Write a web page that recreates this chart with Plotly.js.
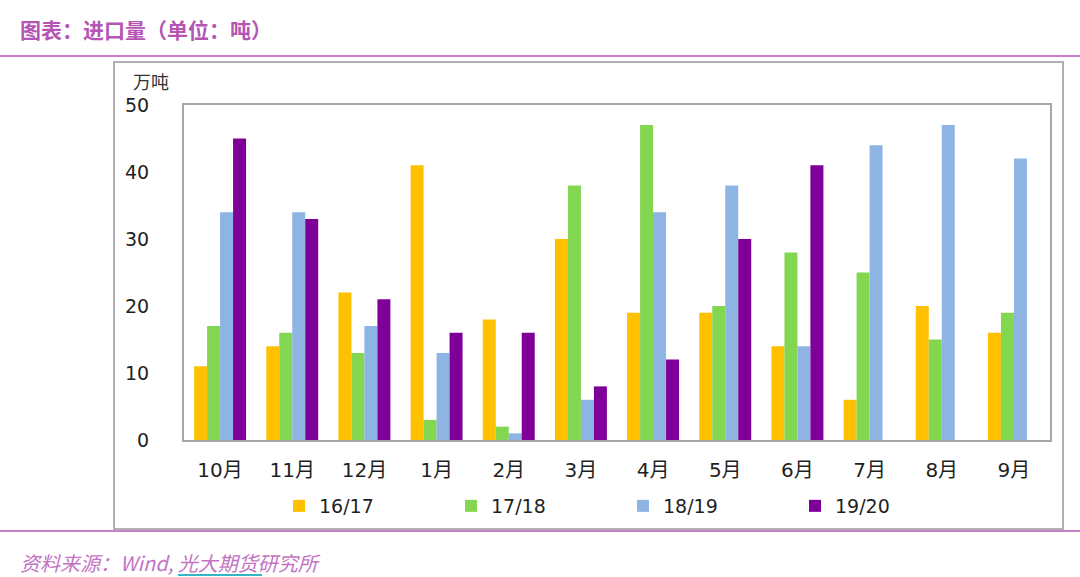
<!DOCTYPE html>
<html>
<head>
<meta charset="utf-8">
<script src="https://cdn.plot.ly/plotly-3.0.1.min.js"></script>
<style>
  html, body { margin: 0; padding: 0; background: #fff; }
  #chart { width: 1080px; height: 577px; }
</style>
</head>
<body>
<div id="chart"></div>
<script>
// months of the marketing year
var months = ['10月', '11月', '12月', '1月', '2月', '3月', '4月', '5月', '6月', '7月', '8月', '9月'];
var seasons = ['16/17', '17/18', '18/19', '19/20'];
// imports, 万吨
var y1617 = [11, 14, 22, 41, 18, 30, 19, 19, 14, 6, 20, 16];
var y1718 = [17, 16, 13, 3, 2, 38, 47, 20, 28, 25, 15, 19];
var y1819 = [34, 34, 17, 13, 1, 6, 34, 38, 14, 44, 47, 42];
var y1920 = [45, 33, 21, 16, 16, 8, 12, 30, 41, null, null, null];
var colors = ['#FFC000', '#82D650', '#8DB4E2', '#7E0099'];

var cjk = 'Noto Sans CJK SC, Noto Sans, sans-serif';
var num = 'DejaVu Sans, Noto Sans CJK SC, sans-serif';
var series = [y1617, y1718, y1819, y1920];
var data = series.map(function (vals, i) {
  return {
    type: 'bar',
    name: seasons[i],
    x: months,
    y: vals,
    marker: { color: colors[i], line: { width: 0 } },
    hoverinfo: 'x+y+name'
  };
});

// pixel helpers for the frame around the chart
var L = 184, R = 1050, T = 105, B = 440;
function px(x) { return (x - L) / (R - L); }
function py(y) { return (B - y) / (B - T); }

var layout = {
  width: 1080,
  height: 577,
  margin: { l: L, r: 1080 - R, t: T, b: 577 - B },
  paper_bgcolor: '#fff',
  plot_bgcolor: '#fff',
  barmode: 'group',
  bargap: 0.28,
  bargroupgap: 0,
  showlegend: true,
  font: { family: cjk, color: '#333' },
  legend: {
    orientation: 'h',
    x: px(279), y: py(487),
    xanchor: 'left', yanchor: 'top',
    font: { size: 19, color: '#1f1f1f', family: num },
    entrywidth: 127,
    traceorder: 'normal'
  },
  xaxis: {
    type: 'category',
    showline: true, mirror: true, linecolor: '#a6a6a6', linewidth: 2,
    ticks: '', showgrid: false,
    tickfont: { size: 20, color: '#1f1f1f', family: num },
    ticklabelstandoff: 11
  },
  yaxis: {
    range: [0, 50], dtick: 10,
    showline: true, mirror: true, linecolor: '#a6a6a6', linewidth: 2,
    ticks: '', showgrid: false, zeroline: false,
    tickfont: { size: 19, color: '#1f1f1f', family: num },
    ticklabelstandoff: 29
  },
  shapes: [
    // outer chart box
    { type: 'rect', xref: 'paper', yref: 'paper', x0: px(114), x1: px(1063), y0: py(62), y1: py(529),
      line: { color: '#b0b0b0', width: 2 }, layer: 'below' },
    // purple rules
    { type: 'line', xref: 'paper', yref: 'paper', x0: px(0), x1: px(1080), y0: py(56), y1: py(56),
      line: { color: '#c97fc9', width: 2 } },
    { type: 'line', xref: 'paper', yref: 'paper', x0: px(0), x1: px(1080), y0: py(531), y1: py(531),
      line: { color: '#c97fc9', width: 2 } },
    // underline under source link
    { type: 'line', xref: 'paper', yref: 'paper', x0: px(178), x1: px(262), y0: py(575), y1: py(575),
      line: { color: '#35b6c8', width: 2 } }
  ],
  annotations: [
    { text: '<b>图表：进口量（单位：吨）</b>', xref: 'paper', yref: 'paper', x: px(18), y: py(29),
      xanchor: 'left', yanchor: 'middle', showarrow: false,
      font: { size: 21, color: '#b455b4', family: cjk } },
    { text: '万吨', xref: 'paper', yref: 'paper', x: px(131), y: py(81),
      xanchor: 'left', yanchor: 'middle', showarrow: false,
      font: { size: 18, color: '#333', family: cjk } },
    { text: '<i>资料来源：Wind, 光大期货研究所</i>', xref: 'paper', yref: 'paper', x: px(18), y: py(562),
      xanchor: 'left', yanchor: 'middle', showarrow: false,
      font: { size: 20, color: '#c373c3', family: cjk } }
  ]
};

Plotly.newPlot('chart', data, layout, { displayModeBar: false, staticPlot: true });
</script>
</body>
</html>
